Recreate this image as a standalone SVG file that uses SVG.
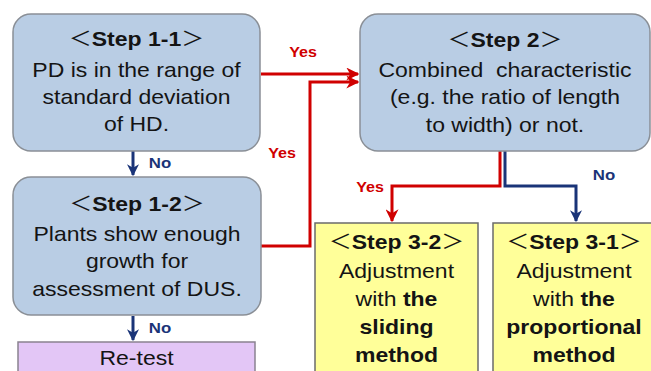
<svg xmlns="http://www.w3.org/2000/svg" width="651" height="371" viewBox="0 0 651 371">
<style>
.bx{fill:#b9cde4;stroke:#8a8f96;stroke-width:1.5}
.yb{fill:#ffff99;stroke:#6b6b6b;stroke-width:1.5}
.pb{fill:#e3c6f6;stroke:#8a8290;stroke-width:1.5}
text{font-family:"Liberation Sans","Noto Sans CJK JP",Arial,sans-serif;fill:#141414;text-anchor:middle}
.t{font-size:20px}
.b{font-weight:bold}
.red{fill:none;stroke:#d00000;stroke-width:3}
.blue{fill:none;stroke:#1a3478;stroke-width:3}
.ly{font-size:14px;font-weight:bold;fill:#d00000}
.ln{font-size:14px;font-weight:bold;fill:#1a3478}
</style>
<defs>
<marker id="ar" viewBox="0 0 10 10" refX="9" refY="5" markerWidth="13" markerHeight="13" markerUnits="userSpaceOnUse" orient="auto"><path d="M0,0 L10,5 L0,10 L3,5 z" fill="#d00000"/></marker>
<marker id="ab" viewBox="0 0 10 10" refX="9" refY="5" markerWidth="12" markerHeight="12" markerUnits="userSpaceOnUse" orient="auto"><path d="M0,0 L10,5 L0,10 L3,5 z" fill="#1a3478"/></marker>
</defs>
<g id="connectors">
<path class="red" d="M261,74 H358" marker-end="url(#ar)"/>
<path class="red" d="M261,246 H310 V82 H358" marker-end="url(#ar)"/>
<path class="red" d="M500,151 V186 H392 V221" marker-end="url(#ar)"/>
<path class="blue" d="M505,151 V186 H576 V221" marker-end="url(#ab)"/>
<path class="blue" d="M133,151 V175" marker-end="url(#ab)"/>
<path class="blue" d="M133,316 V340" marker-end="url(#ab)"/>
<g transform="translate(303,57) scale(1.15,1)"><text class="ly" x="0" y="0">Yes</text></g>
<g transform="translate(282,158) scale(1.15,1)"><text class="ly" x="0" y="0">Yes</text></g>
<g transform="translate(370,192) scale(1.15,1)"><text class="ly" x="0" y="0">Yes</text></g>
<g transform="translate(604,180) scale(1.2,1)"><text class="ln" x="0" y="0">No</text></g>
<g transform="translate(160,168) scale(1.2,1)"><text class="ln" x="0" y="0">No</text></g>
<g transform="translate(160,333) scale(1.2,1)"><text class="ln" x="0" y="0">No</text></g>
</g>
<g id="step11">
<rect class="bx" x="13" y="14" width="247" height="137" rx="18"/>
<g transform="translate(136.5,0) scale(1.15,1)">
<text class="t" x="0" y="46">＜<tspan class="b">Step 1-1</tspan>＞</text>
<text class="t" x="0" y="77">PD is in the range of</text>
<text class="t" x="0" y="104">standard deviation</text>
<text class="t" x="0" y="131">of HD.</text>
</g>
</g>
<g id="step12">
<rect class="bx" x="13" y="177" width="248" height="138" rx="18"/>
<g transform="translate(137,0) scale(1.15,1)">
<text class="t" x="0" y="211">＜<tspan class="b">Step 1-2</tspan>＞</text>
<text class="t" x="0" y="241">Plants show enough</text>
<text class="t" x="0" y="268">growth for</text>
<text class="t" x="0" y="296">assessment of DUS.</text>
</g>
</g>
<g id="retest">
<rect class="pb" x="18" y="342" width="237" height="40"/>
<g transform="translate(136.5,0) scale(1.15,1)">
<text class="t" x="0" y="365">Re-test</text>
</g>
</g>
<g id="step2">
<rect class="bx" x="360" y="14" width="290" height="137" rx="18"/>
<g transform="translate(505,0) scale(1.15,1)">
<text class="t" x="0" y="47">＜<tspan class="b">Step 2</tspan>＞</text>
<text class="t" x="0" y="77" xml:space="preserve">Combined  characteristic</text>
<text class="t" x="0" y="104">(e.g. the ratio of length</text>
<text class="t" x="0" y="132">to width) or not.</text>
</g>
</g>
<g id="step32">
<rect class="yb" x="315" y="223" width="163" height="160"/>
<g transform="translate(396.5,0) scale(1.15,1)">
<text class="t" x="0" y="249">＜<tspan class="b">Step 3-2</tspan>＞</text>
<text class="t" x="0" y="278">Adjustment</text>
<text class="t" x="0" y="306">with <tspan class="b">the</tspan></text>
<text class="t b" x="0" y="334">sliding</text>
<text class="t b" x="0" y="362">method</text>
</g>
</g>
<g id="step31">
<rect class="yb" x="493" y="223" width="163" height="160"/>
<g transform="translate(574,0) scale(1.15,1)">
<text class="t" x="0" y="249">＜<tspan class="b">Step 3-1</tspan>＞</text>
<text class="t" x="0" y="278">Adjustment</text>
<text class="t" x="0" y="306">with <tspan class="b">the</tspan></text>
<text class="t b" x="0" y="334">proportional</text>
<text class="t b" x="0" y="362">method</text>
</g>
</g>
</svg>
